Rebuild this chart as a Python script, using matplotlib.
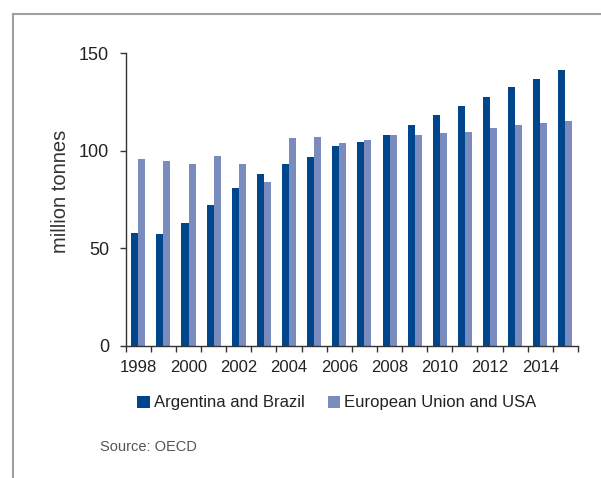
import numpy as np
import matplotlib.pyplot as plt
from matplotlib.lines import Line2D

plt.rcParams['font.family'] = ['Liberation Sans', 'DejaVu Sans']

# data (million tonnes)
years = list(range(1998, 2016))
arg_bra = [57.7, 57.2, 62.8, 72.0, 80.7, 87.9, 93.0, 96.6, 102.2, 104.3,
           107.8, 113.0, 118.1, 122.7, 127.3, 132.4, 136.5, 141.1]
eu_usa = [95.6, 94.5, 93.0, 97.1, 93.0, 83.8, 106.3, 106.8, 103.8, 105.3,
          107.8, 107.8, 108.9, 109.4, 111.4, 113.0, 114.0, 115.0]
tick_labels = [str(y) if y % 2 == 0 else '' for y in years]
yticks = [0, 50, 100, 150]

dark = '#00468c'
light = '#7a8cbe'
axis_col = '#333333'
W, H = 601, 478

fig = plt.figure(figsize=(W / 100, H / 100), dpi=100)
ax = fig.add_axes([125.7 / W, 1 - 346 / H, (578 - 125.7) / W, (346 - 53) / H])

x = np.arange(len(years))
bw = 0.28
ax.bar(x - bw / 2, arg_bra, bw, color=dark, label='Argentina and Brazil')
ax.bar(x + bw / 2, eu_usa, bw, color=light, label='European Union and USA')

ax.set_xlim(-0.5, len(years) - 0.5)
ax.set_ylim(0, 150)
ax.set_yticks(yticks)
ax.set_xticks(x)
ax.set_xticklabels(tick_labels)
ax.set_xticks(np.arange(-0.5, len(years)), minor=True)
ax.tick_params(axis='x', which='major', length=0, pad=10, labelsize=12, labelcolor='#222222')
ax.tick_params(axis='x', which='minor', length=4, width=1, color=axis_col)
ax.tick_params(axis='y', length=4, width=1, color=axis_col, pad=8, labelsize=13, labelcolor='#222222')

for s in ['top', 'right']:
    ax.spines[s].set_visible(False)
for s in ['left', 'bottom']:
    ax.spines[s].set_color(axis_col)
    ax.spines[s].set_linewidth(1)

# y axis title placed where the reference has it
fig.text(60 / W, 1 - 191 / H, 'million tonnes', fontsize=14.5, color='#333333',
         rotation=90, ha='center', va='center')

ax.legend(loc='center left', bbox_to_anchor=(137 / W, 1 - 403 / H), bbox_transform=fig.transFigure,
          ncol=2, frameon=False, fontsize=12, handlelength=0.75, handleheight=0.75,
          handletextpad=0.25, columnspacing=1.4, borderpad=0, borderaxespad=0,
          labelcolor='#222222')

fig.text(100 / W, 1 - 447 / H, 'Source: OECD', fontsize=10.5, color='#555555', va='center')

# outer frame lines (top and left)
fig.add_artist(Line2D([12.5 / W, 1], [1 - 13.5 / H, 1 - 13.5 / H], transform=fig.transFigure,
                      color='#a0a0a0', lw=1.5))
fig.add_artist(Line2D([12.5 / W, 12.5 / W], [0, 1 - 13.5 / H], transform=fig.transFigure,
                      color='#a0a0a0', lw=1.5))

fig.savefig('out.png', dpi=100)
